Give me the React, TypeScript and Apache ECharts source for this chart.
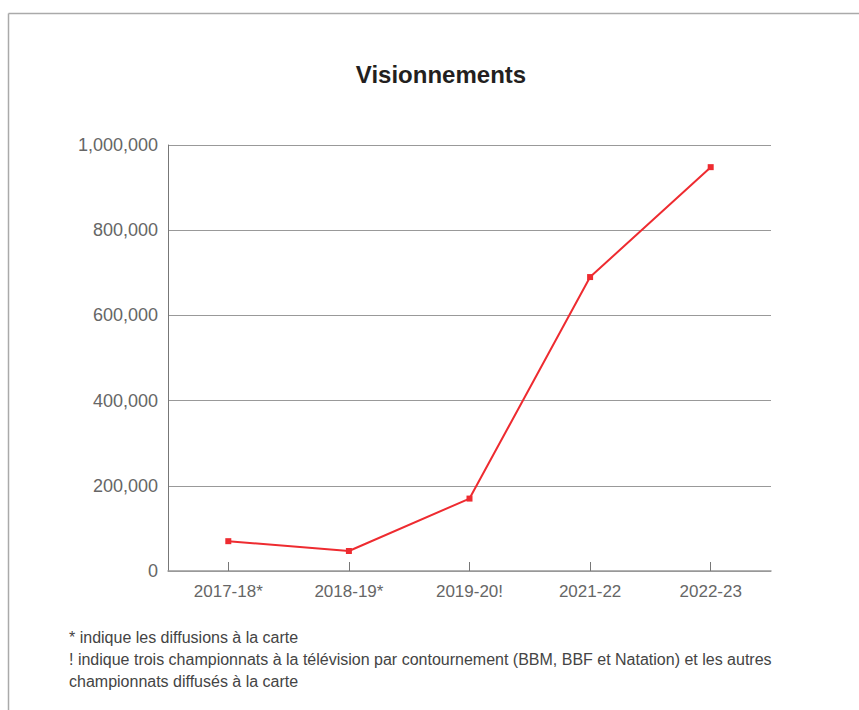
import React, { useEffect, useRef } from "react";
import * as echarts from "echarts";

const categories = ["2017-18*", "2018-19*", "2019-20!", "2021-22", "2022-23"];
const viewings = [70000, 47000, 170000, 690000, 948000];
const yTicks = { min: 0, max: 1000000, interval: 200000 };
const titleText = "Visionnements";
const footnotes = [
  "* indique les diffusions à la carte",
  "! indique trois championnats à la télévision par contournement (BBM, BBF et Natation) et les autres",
  "championnats diffusés à la carte",
];

const FONT = "'Liberation Sans', Arial, Helvetica, sans-serif";

export default function App() {
  const ref = useRef<HTMLDivElement>(null);
  useEffect(() => {
    if (!ref.current) return;
    const chart = echarts.init(ref.current, undefined, { renderer: "svg" });
    chart.setOption({
      animation: false,
      backgroundColor: "#ffffff",
      textStyle: { fontFamily: FONT },
      graphic: [
        { type: "line", shape: { x1: 8.5, y1: 13.5, x2: 859, y2: 13.5 }, style: { stroke: "#aaaaaa", lineWidth: 1.5 } },
        { type: "line", shape: { x1: 8.5, y1: 13.5, x2: 8.5, y2: 710 }, style: { stroke: "#aaaaaa", lineWidth: 1.5 } },
        {
          type: "text",
          x: 441,
          y: 74,
          style: { text: titleText, fill: "#231f20", font: `bold 24px ${FONT}`, textAlign: "center", textVerticalAlign: "middle" },
        },
        ...footnotes.map((t, i) => ({
          type: "text",
          x: 69,
          y: 637 + i * 22,
          style: { text: t, fill: "#444444", font: `16px ${FONT}`, textVerticalAlign: "middle", textAlign: "left" },
        })),
      ],
      grid: { left: 168, right: 88, top: 145, bottom: 139, containLabel: false },
      xAxis: {
        type: "category",
        data: categories,
        boundaryGap: true,
        axisLine: { show: true, lineStyle: { color: "#999999", width: 1.5 } },
        axisTick: { show: true, inside: true, length: 9, alignWithLabel: true, lineStyle: { color: "#777777", width: 1 } },
        axisLabel: { color: "#666666", fontSize: 17, margin: 12, fontFamily: FONT },
        splitLine: { show: false },
      },
      yAxis: {
        type: "value",
        min: yTicks.min,
        max: yTicks.max,
        interval: yTicks.interval,
        axisLine: { show: true, lineStyle: { color: "#777777", width: 1 } },
        axisTick: { show: false },
        axisLabel: {
          color: "#666666",
          fontSize: 18,
          margin: 10,
          fontFamily: FONT,
          formatter: (v: number) => v.toLocaleString("en-US"),
        },
        splitLine: { show: true, lineStyle: { color: "#999999", width: 1 } },
      },
      series: [
        {
          type: "line",
          data: viewings,
          symbol: "rect",
          symbolSize: 6,
          lineStyle: { color: "#ee2b30", width: 2 },
          itemStyle: { color: "#ee2b30" },
        },
      ],
    });
    return () => chart.dispose();
  }, []);
  return (
    <div
      ref={ref}
      style={{ position: "fixed", left: 0, top: 0, width: 859, height: 710 }}
    />
  );
}
